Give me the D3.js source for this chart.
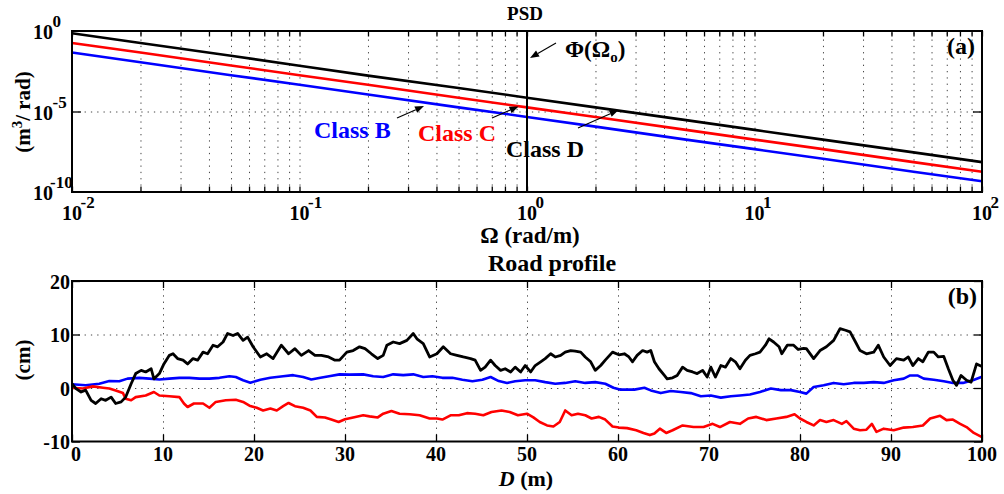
<!DOCTYPE html>
<html><head><meta charset="utf-8">
<script src="https://cdn.jsdelivr.net/npm/d3@7"></script>
<style>
html,body{margin:0;padding:0;background:#fff;}
text{font-family:"Liberation Serif","Times New Roman",serif;font-weight:bold;fill:#000;}
</style></head>
<body><svg id="c" width="1004" height="494"></svg>
<script>
// ---------- DATA ----------
// Panel (a): PSD versus spatial angular frequency
const omega = [0.01, 0.02, 0.05, 0.1, 0.2, 0.5, 1, 2, 5, 10, 20, 50, 100];
const psdClassB = [0.046, 0.0115, 1.8e-3, 4.6e-4, 1.15e-4, 1.8e-5, 4.6e-6, 1.15e-6, 1.8e-7, 4.6e-8, 1.15e-8, 1.8e-9, 4.6e-10];
const psdClassC = [0.18, 0.046, 7.2e-3, 1.8e-3, 4.6e-4, 7.2e-5, 1.8e-5, 4.6e-6, 7.2e-7, 1.8e-7, 4.6e-8, 7.2e-9, 1.8e-9];
const psdClassD = [0.72, 0.18, 0.029, 7.0e-3, 1.7e-3, 2.9e-4, 7.2e-5, 1.8e-5, 2.9e-6, 7.2e-7, 1.8e-7, 2.9e-8, 7.2e-9];
const omega0 = 1;
const psdXTickExp = [-2, -1, 0, 1, 2];
const psdYTickExp = [0, -5, -10];

// Panel (b): road profile (D in m, height in cm)
const profileClassB = [[0,0.7],[1.5,0.5],[3.0,0.8],[4.1,1.3],[5.2,1.25],[6.1,1.75],[7.4,1.9],[8.5,1.75],[9.6,1.6],[10.7,1.75],[11.8,1.9],[12.9,1.9],[14.0,1.75],[15.1,1.75],[16.2,1.9],[17.3,2.2],[18.0,2.05],[18.8,1.45],[19.6,1.0],[20.7,1.55],[21.8,1.9],[23.2,2.2],[24.3,2.4],[25.4,2.05],[26.3,1.6],[27.3,1.9],[28.4,2.25],[29.4,2.55],[30.5,2.5],[32.0,2.55],[33.1,2.2],[34.2,2.05],[35.3,2.55],[36.4,2.4],[37.5,2.55],[38.6,2.05],[39.6,2.2],[40.7,1.9],[41.8,1.9],[42.9,1.55],[44.0,1.25],[45.1,1.55],[46.0,2.05],[46.9,1.3],[47.8,0.95],[48.7,1.25],[49.8,1.45],[50.9,1.45],[52.0,1.1],[53.1,0.8],[54.2,0.95],[55.3,1.25],[56.4,0.95],[57.5,1.1],[58.6,0.8],[59.5,0.05],[60.2,-0.3],[61.8,-0.3],[62.9,0.05],[63.6,-0.45],[64.7,-0.95],[65.8,-0.55],[66.9,-0.75],[68.0,-0.95],[69.1,-1.55],[70.2,-1.4],[71.3,-1.8],[72.4,-1.55],[73.4,-1.4],[74.5,-1.2],[75.6,-0.75],[76.8,-0.1],[77.9,-0.4],[79.0,-0.4],[80.0,-0.75],[80.7,-1.05],[81.5,0.2],[82.6,0.5],[83.7,0.95],[84.8,0.7],[85.9,0.95],[87.0,0.95],[88.1,1.1],[89.2,0.95],[90.3,1.45],[91.4,1.75],[92.1,2.35],[92.9,2.35],[93.6,1.75],[94.7,1.55],[95.8,1.25],[96.8,0.95],[97.9,0.95],[99.0,1.45],[100,2.1]];
const profileClassC = [[0,0.05],[1.2,-0.1],[2.3,0.3],[3.4,0.05],[4.1,-0.1],[4.8,-0.45],[5.6,-0.95],[5.9,-2.0],[6.5,-2.3],[7.0,-1.7],[8.1,-1.4],[9.0,-0.75],[9.6,-1.4],[10.7,-1.55],[11.8,-1.7],[12.3,-2.9],[12.7,-3.55],[13.4,-2.9],[14.4,-2.9],[15.1,-3.7],[15.8,-2.6],[16.9,-2.3],[18.0,-2.2],[18.8,-2.6],[19.5,-3.3],[20.3,-3.7],[21.0,-4.2],[21.8,-3.85],[22.5,-4.2],[23.2,-3.4],[23.8,-2.8],[24.5,-3.4],[25.4,-3.7],[26.2,-4.2],[26.9,-5.4],[27.8,-5.5],[28.5,-5.9],[29.3,-6.35],[30.0,-5.85],[30.9,-5.5],[32.0,-5.1],[32.7,-5.3],[33.6,-5.5],[34.2,-4.8],[35.1,-4.3],[36.0,-4.8],[37.1,-4.9],[38.2,-5.1],[39.3,-5.7],[40.1,-5.7],[40.7,-5.9],[41.6,-5.1],[42.5,-5.1],[43.4,-4.7],[44.3,-4.8],[45.2,-5.1],[46.1,-4.5],[47.2,-4.2],[48.1,-4.5],[49.0,-5.1],[50.0,-4.8],[50.7,-5.5],[51.4,-6.35],[52.2,-7.0],[52.9,-7.2],[53.6,-6.35],[54.2,-4.2],[54.9,-5.1],[55.6,-4.8],[56.4,-5.1],[57.1,-5.7],[57.9,-5.4],[58.6,-5.9],[59.4,-7.2],[60.1,-7.4],[61.0,-7.5],[62.0,-7.9],[62.8,-8.4],[63.5,-8.8],[64.0,-8.5],[64.6,-7.6],[65.3,-8.4],[66.0,-7.9],[67.1,-7.0],[68.3,-7.3],[69.4,-7.3],[70.4,-6.7],[71.2,-7.3],[72.3,-6.35],[73.4,-6.7],[74.3,-5.7],[75.2,-5.4],[76.3,-6.0],[77.4,-5.7],[78.5,-5.4],[79.4,-4.9],[80.0,-5.7],[80.7,-6.35],[81.5,-7.0],[82.2,-6.0],[82.9,-6.35],[83.7,-6.0],[84.6,-6.7],[85.1,-6.2],[85.9,-7.6],[86.6,-7.9],[87.3,-7.8],[87.9,-6.7],[88.4,-8.2],[89.2,-7.6],[90.3,-7.9],[91.4,-7.4],[92.4,-7.3],[93.5,-7.0],[94.3,-5.7],[95.4,-5.2],[96.1,-6.0],[96.8,-5.9],[97.6,-6.7],[98.3,-7.3],[99.1,-8.4],[100,-9.2]];
const profileClassD = [[0,0.8],[0.44,-0.1],[1.0,-0.75],[1.5,-0.4],[2.1,-2.3],[2.6,-2.9],[3.2,-2.0],[3.7,-2.3],[4.3,-1.7],[4.8,-2.9],[5.4,-2.6],[5.9,-1.7],[6.5,0.8],[7.0,2.7],[7.6,3.3],[8.1,3.0],[8.7,3.6],[9.0,1.7],[9.6,2.7],[10.1,4.5],[10.7,6.1],[11.1,6.4],[11.6,5.5],[12.2,5.2],[12.7,4.5],[13.3,5.5],[13.8,5.2],[14.4,6.7],[14.9,6.4],[15.5,8.0],[16.0,7.7],[16.6,8.6],[17.1,10.2],[17.7,9.8],[18.2,10.2],[18.8,8.9],[19.3,9.5],[19.9,7.7],[20.7,5.8],[21.4,6.4],[22.1,5.5],[23.0,8.0],[23.8,6.4],[24.5,7.35],[25.2,6.1],[26.0,7.0],[26.7,6.1],[27.4,6.1],[28.2,5.8],[28.9,5.2],[29.4,5.2],[30.2,6.7],[30.9,7.0],[31.6,7.7],[32.2,7.35],[32.9,6.4],[33.6,5.5],[34.2,6.1],[34.6,8.0],[35.3,8.6],[36.0,8.3],[36.8,8.9],[37.5,10.2],[37.9,9.2],[38.6,8.3],[39.3,5.8],[40.1,6.4],[40.8,7.7],[41.6,6.4],[42.3,6.1],[43.0,5.8],[43.8,5.5],[44.3,5.2],[44.9,3.3],[45.4,3.9],[46.0,5.2],[46.5,4.2],[47.1,3.3],[47.6,3.6],[48.2,3.0],[48.7,3.9],[49.3,3.0],[49.8,4.2],[50.4,3.0],[50.9,4.2],[51.5,4.9],[52.0,5.5],[52.6,6.4],[53.1,5.8],[53.7,6.1],[54.2,6.7],[54.8,7.0],[55.3,6.9],[55.9,6.7],[56.4,5.8],[57.0,4.9],[57.5,3.3],[58.1,4.2],[58.6,5.2],[59.4,6.7],[60.1,6.2],[60.7,6.4],[61.2,5.8],[61.6,4.9],[62.1,6.1],[62.7,7.0],[63.2,6.7],[63.6,7.0],[64.0,4.9],[64.5,3.6],[65.1,2.35],[65.4,1.7],[66.0,1.9],[66.5,2.35],[67.1,3.9],[67.6,3.3],[68.2,3.0],[68.7,2.7],[69.3,3.3],[69.8,2.05],[70.2,3.9],[70.7,2.05],[71.3,4.2],[71.8,3.9],[72.4,5.5],[72.9,4.9],[73.4,3.6],[74.0,5.2],[74.5,6.1],[75.1,6.4],[75.6,6.7],[76.2,8.0],[76.6,9.2],[77.1,8.6],[77.7,7.7],[78.0,6.4],[78.6,8.0],[79.3,8.0],[79.8,7.2],[80.4,7.4],[80.7,7.35],[81.5,5.5],[82.2,7.0],[82.9,7.7],[83.7,8.9],[84.4,11.1],[85.0,10.8],[85.5,10.5],[86.1,8.6],[86.6,7.0],[87.3,6.4],[88.1,6.7],[88.6,8.0],[89.2,5.8],[89.9,4.2],[90.6,5.5],[91.4,5.2],[91.9,5.8],[92.4,4.2],[93.0,5.5],[93.5,4.9],[94.1,6.7],[94.7,6.7],[95.2,5.8],[95.8,5.9],[96.3,3.6],[96.8,1.45],[97.2,0.5],[97.7,2.35],[98.3,1.45],[98.8,1.1],[99.4,4.5],[100,4.0]];
const profileXTicks = [0,10,20,30,40,50,60,70,80,90,100];
const profileYTicks = [-10,0,10,20];

// ---------- LAYOUT ----------
const svg = d3.select('#c');
const L = 72, R = 982;
const aTop = 31, aBot = 192;
const bTop = 281, bBot = 441.5;

const xLog = d3.scaleLog().domain([0.01, 100]).range([L, R]);
const yLog = d3.scaleLog().domain([1e-10, 1]).range([aBot, aTop]);
const xLin = d3.scaleLinear().domain([0, 100]).range([L, R]);
const yLin = d3.scaleLinear().domain([-10, 20]).range([bBot, bTop]);

const minorLog = [];
for (let e = -2; e < 2; e++) for (let m = 1; m <= 9; m++) minorLog.push(m * Math.pow(10, e));
minorLog.push(100);
const innerLog = minorLog.filter(v => v > 0.01 && v < 100);

function styleAxis(g, dashed) {
  g.select('.domain').remove();
  g.selectAll('.tick line').attr('stroke', dashed ? '#444' : '#000')
    .attr('stroke-width', dashed ? 1 : 1.3)
    .attr('stroke-dasharray', dashed ? '1.3,5' : null);
  g.selectAll('.tick text').remove();
}

// ---------- PANEL (a) ----------
const pa = svg.append('g');
pa.append('g').attr('transform', `translate(0,${aBot})`)
  .call(d3.axisBottom(xLog).tickValues(innerLog).tickSize(-(aBot - aTop)).tickFormat(''))
  .call(g => styleAxis(g, true));
pa.append('g').attr('transform', `translate(${L},0)`)
  .call(d3.axisLeft(yLog).tickValues([1e-5]).tickSize(-(R - L)).tickFormat(''))
  .call(g => styleAxis(g, true));
pa.append('g').attr('transform', `translate(0,${aBot})`)
  .call(d3.axisBottom(xLog).tickValues(minorLog).tickSize(-5.5).tickFormat(''))
  .call(g => styleAxis(g, false));
pa.append('g').attr('transform', `translate(0,${aTop})`)
  .call(d3.axisTop(xLog).tickValues(minorLog).tickSize(-5.5).tickFormat(''))
  .call(g => styleAxis(g, false));
pa.append('g').attr('transform', `translate(${L},0)`)
  .call(d3.axisLeft(yLog).tickValues([1e-5]).tickSize(-9).tickFormat(''))
  .call(g => styleAxis(g, false));
pa.append('g').attr('transform', `translate(${R},0)`)
  .call(d3.axisRight(yLog).tickValues([1e-5]).tickSize(-9).tickFormat(''))
  .call(g => styleAxis(g, false));

const lineA = d3.line().x((d, i) => xLog(omega[i])).y(d => yLog(d));
[[psdClassB, '#0000ff'], [psdClassC, '#ff0000'], [psdClassD, '#000000']].forEach(([s, c]) => {
  pa.append('path').attr('d', lineA(s)).attr('fill', 'none').attr('stroke', c).attr('stroke-width', 2.6);
});
pa.append('line').attr('x1', xLog(omega0)).attr('x2', xLog(omega0)).attr('y1', aTop).attr('y2', aBot)
  .attr('stroke', '#000').attr('stroke-width', 2);
pa.append('rect').attr('x', L).attr('y', aTop).attr('width', R - L).attr('height', aBot - aTop)
  .attr('fill', 'none').attr('stroke', '#000').attr('stroke-width', 2);

psdXTickExp.forEach(e => {
  const x = xLog(Math.pow(10, e));
  pa.append('text').attr('x', x).attr('y', 220).attr('text-anchor', 'middle').attr('font-size', 20).text('10');
  pa.append('text').attr('x', x + 8.5).attr('y', 208).attr('font-size', 17).text(String(e));
});
psdYTickExp.forEach(e => {
  const y = yLog(Math.pow(10, e));
  pa.append('text').attr('x', 53).attr('y', y + 8).attr('text-anchor', 'end').attr('font-size', 20).text('10');
  pa.append('text').attr('x', e === -10 ? 50 : 52.5).attr('y', y - 4).attr('font-size', 17).text(String(e));
});
pa.append('text').attr('x', 525).attr('y', 20).attr('text-anchor', 'middle').attr('font-size', 19).text('PSD');
pa.append('text').attr('x', 530).attr('y', 243).attr('text-anchor', 'middle').attr('font-size', 23).text('Ω (rad/m)');
const yl = pa.append('text').attr('transform', 'translate(30,112) rotate(-90)').attr('text-anchor', 'middle').attr('font-size', 21);
yl.append('tspan').text('(m');
yl.append('tspan').attr('dy', -8).attr('font-size', 15).text('3');
yl.append('tspan').attr('dy', 8).text('/ rad)');
pa.append('text').attr('x', 975).attr('y', 54).attr('text-anchor', 'end').attr('font-size', 24).text('(a)');

const phi = pa.append('text').attr('x', 565).attr('y', 57).attr('font-size', 23);
phi.append('tspan').text('Φ(Ω');
phi.append('tspan').attr('dy', 5).attr('font-size', 15).text('o');
phi.append('tspan').attr('dy', -5).text(')');
pa.append('text').attr('x', 314).attr('y', 138).attr('font-size', 24).style('fill', '#0000ff').text('Class B');
pa.append('text').attr('x', 418).attr('y', 141).attr('font-size', 24).style('fill', '#ff0000').text('Class C');
pa.append('text').attr('x', 506).attr('y', 157).attr('font-size', 24).text('Class D');

function arrow(x1, y1, x2, y2) {
  const ang = Math.atan2(y2 - y1, x2 - x1), len = 9, w = 3.5;
  const bx = x2 - len * Math.cos(ang), by = y2 - len * Math.sin(ang);
  pa.append('line').attr('x1', x1).attr('y1', y1).attr('x2', bx).attr('y2', by).attr('stroke', '#000').attr('stroke-width', 1.1);
  const px = -Math.sin(ang) * w, py = Math.cos(ang) * w;
  pa.append('path').attr('d', `M${x2},${y2}L${bx + px},${by + py}L${bx - px},${by - py}Z`).attr('fill', '#000');
}
arrow(556, 43, 530, 58);
arrow(397, 118, 424, 106);
arrow(492, 118, 518.5, 106.5);
arrow(578, 128, 618.5, 110);

// ---------- PANEL (b) ----------
const pb = svg.append('g');
pb.append('g').attr('transform', `translate(0,${bBot})`)
  .call(d3.axisBottom(xLin).tickValues(profileXTicks.filter(v => v > 0 && v < 100)).tickSize(-(bBot - bTop)).tickFormat(''))
  .call(g => styleAxis(g, true));
pb.append('g').attr('transform', `translate(${L},0)`)
  .call(d3.axisLeft(yLin).tickValues([0, 10]).tickSize(-(R - L)).tickFormat(''))
  .call(g => styleAxis(g, true));
pb.append('g').attr('transform', `translate(0,${bBot})`)
  .call(d3.axisBottom(xLin).tickValues(profileXTicks).tickSize(-7).tickFormat(''))
  .call(g => styleAxis(g, false));
pb.append('g').attr('transform', `translate(0,${bTop})`)
  .call(d3.axisTop(xLin).tickValues(profileXTicks).tickSize(-7).tickFormat(''))
  .call(g => styleAxis(g, false));
pb.append('g').attr('transform', `translate(${L},0)`)
  .call(d3.axisLeft(yLin).tickValues(profileYTicks).tickSize(-8).tickFormat(''))
  .call(g => styleAxis(g, false));
pb.append('g').attr('transform', `translate(${R},0)`)
  .call(d3.axisRight(yLin).tickValues(profileYTicks).tickSize(-8).tickFormat(''))
  .call(g => styleAxis(g, false));

const lineB = d3.line().x(d => xLin(d[0])).y(d => yLin(d[1]));
[[profileClassB, '#0000ff', 2.6], [profileClassC, '#ff0000', 2.6], [profileClassD, '#000000', 2.8]].forEach(([s, c, w]) => {
  pb.append('path').attr('d', lineB(s)).attr('fill', 'none').attr('stroke', c).attr('stroke-width', w).attr('stroke-linejoin', 'round');
});
pb.append('rect').attr('x', L).attr('y', bTop).attr('width', R - L).attr('height', bBot - bTop)
  .attr('fill', 'none').attr('stroke', '#000').attr('stroke-width', 2);

profileXTicks.forEach(v => {
  pb.append('text').attr('x', xLin(v) + (v === 0 ? 4 : 0)).attr('y', 461).attr('text-anchor', 'middle').attr('font-size', 20).text(v);
});
profileYTicks.forEach(v => {
  pb.append('text').attr('x', 70).attr('y', yLin(v) + 7.5).attr('text-anchor', 'end').attr('font-size', 20).text(v);
});
pb.append('text').attr('x', 552).attr('y', 271).attr('text-anchor', 'middle').attr('font-size', 24).text('Road profile');
const xl = pb.append('text').attr('x', 526).attr('y', 486).attr('text-anchor', 'middle').attr('font-size', 22);
xl.append('tspan').attr('font-style', 'italic').text('D');
xl.append('tspan').text(' (m)');
pb.append('text').attr('transform', 'translate(30,360) rotate(-90)').attr('text-anchor', 'middle').attr('font-size', 21).text('(cm)');
pb.append('text').attr('x', 977).attr('y', 304).attr('text-anchor', 'end').attr('font-size', 24).text('(b)');
</script></body></html>
